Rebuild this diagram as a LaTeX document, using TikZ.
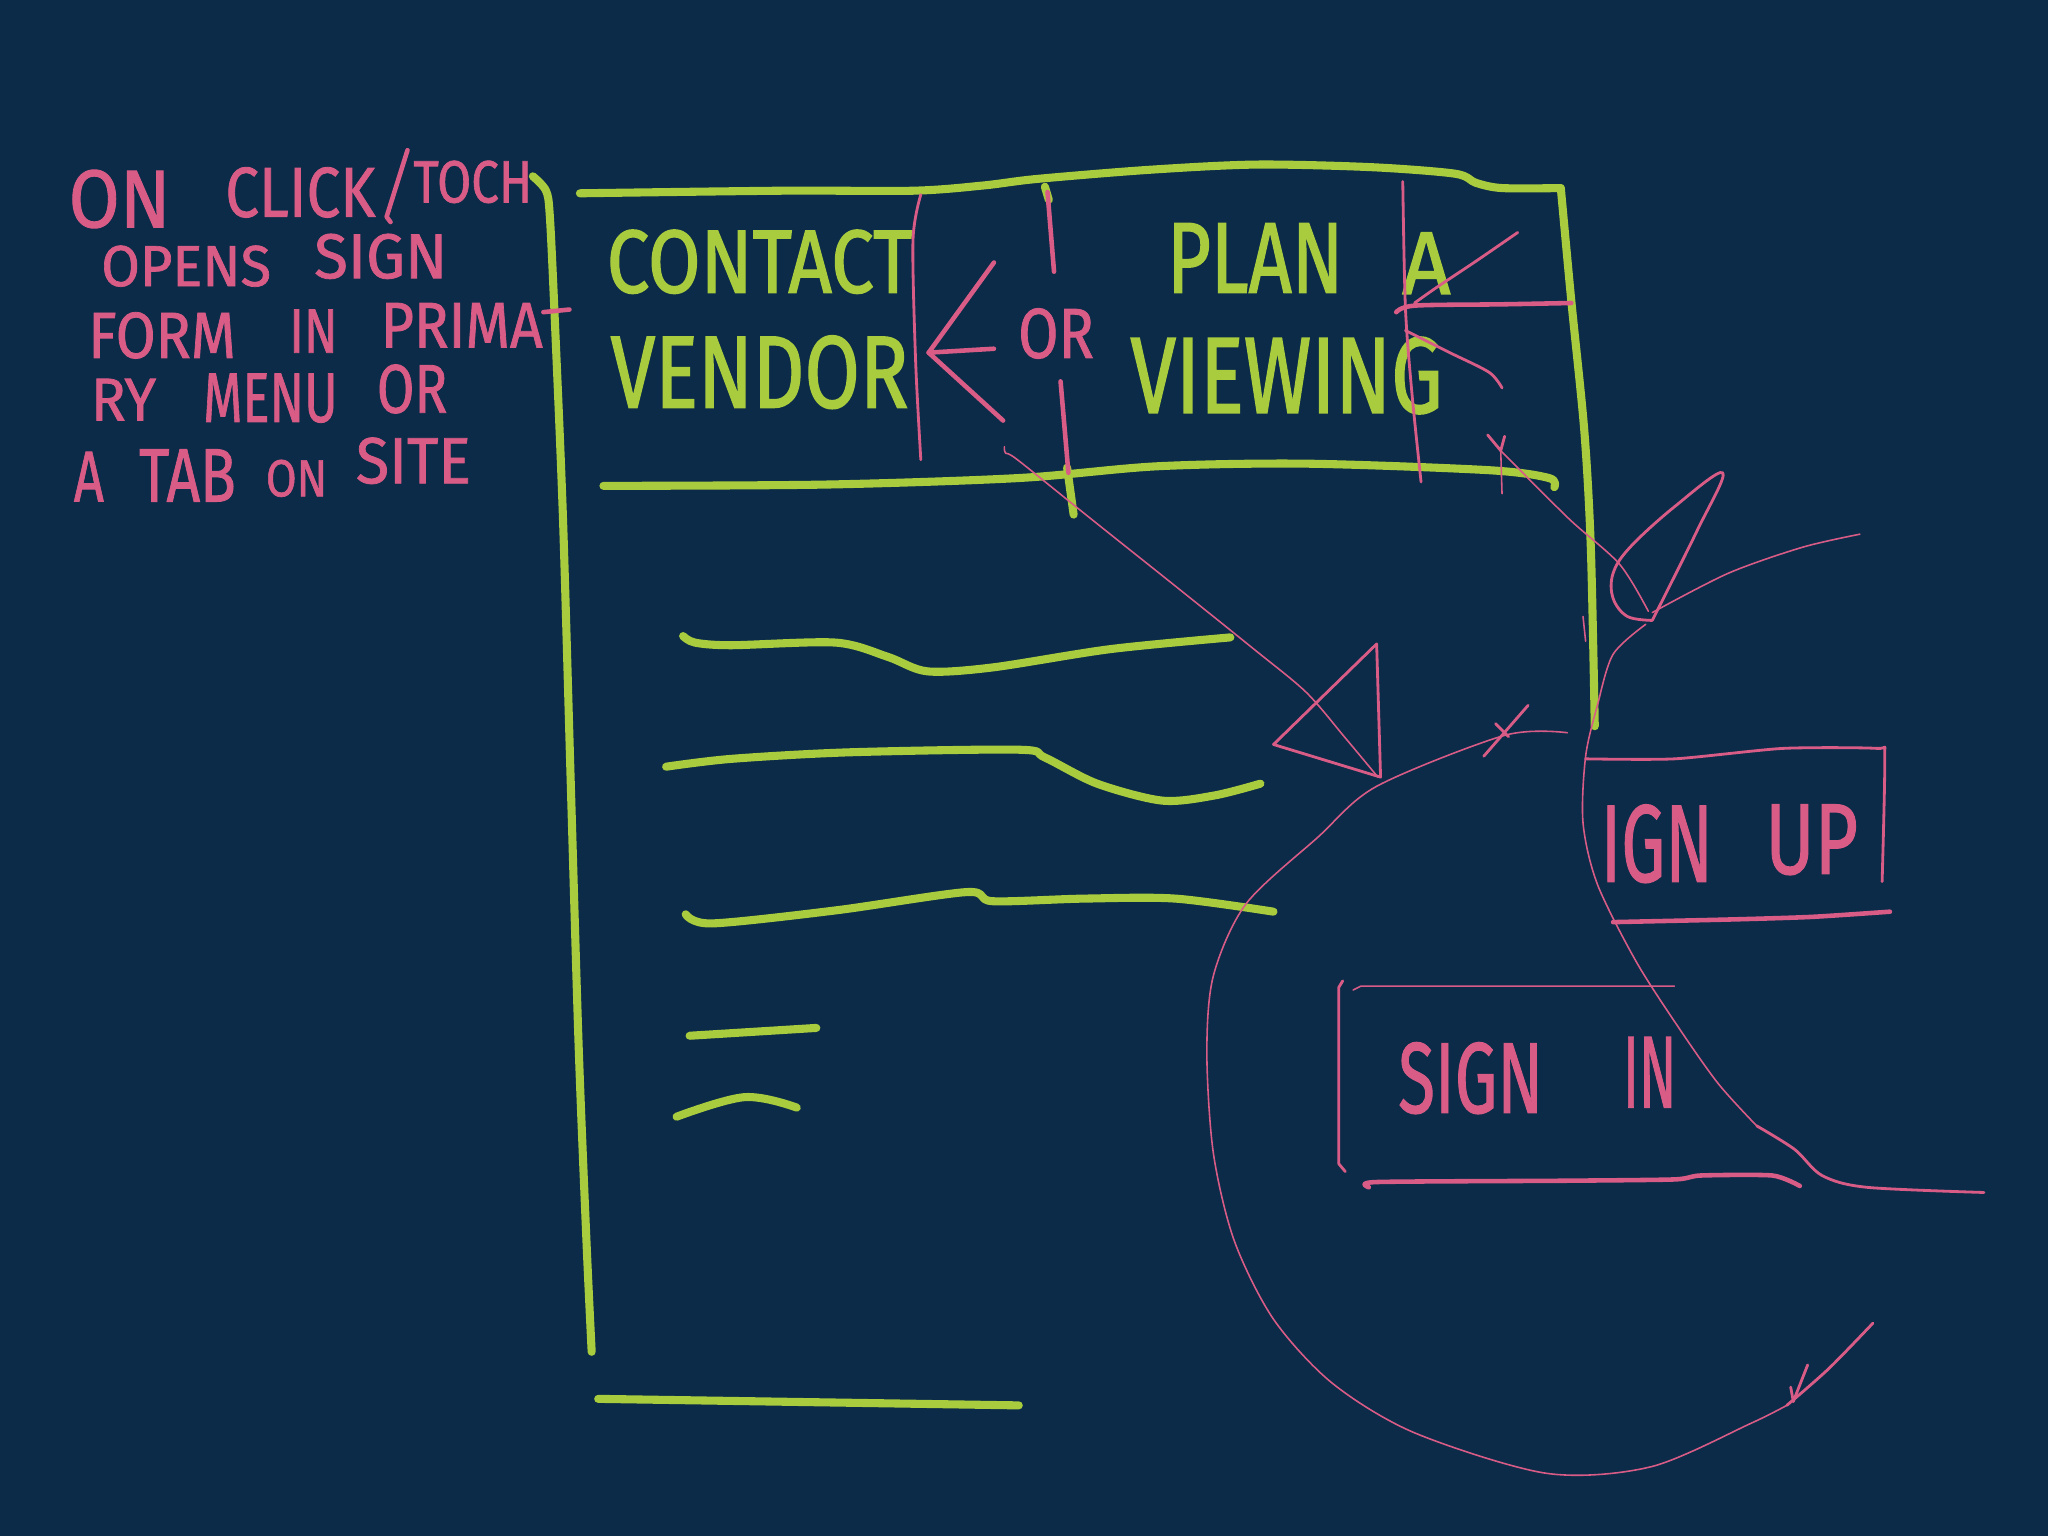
\documentclass[tikz,border=0pt]{standalone}
\usepackage{fontspec}
\setmainfont{Fira Sans}
\newfontfamily\gfont[FakeBold=1.6]{Fira Sans}
\newfontfamily\pfont[FakeBold=1.2]{Fira Sans}
\usepackage{graphicx}
\definecolor{bg}{HTML}{0B2B48}
\definecolor{lime}{HTML}{A9CB3E}
\definecolor{rose}{HTML}{D95C87}
\newlength\ux \setlength\ux{0.0130612cm}
\newcommand\fitw[3]{\resizebox{#1\ux}{#2\ux}{#3}}
\tikzset{
 gline/.style={draw=lime, line width=2.3pt, line cap=round, line join=round},
 pthick/.style={draw=rose, line width=1.3pt, line cap=round, line join=round},
 pmid/.style={draw=rose, line width=0.8pt, line cap=round, line join=round},
 pthin/.style={draw=rose, line width=0.45pt, line cap=round, line join=round},
 gtext/.style={text=lime, inner sep=0pt, anchor=base west, font=\gfont},
 ptext/.style={text=rose, inner sep=0pt, anchor=base west, font=\pfont},
}
\begin{document}
\begin{tikzpicture}[x=0.0130612cm, y=-0.0130612cm]
\fill[bg] (0,0) rectangle (1568,1176);
\useasboundingbox (0,0) rectangle (1568,1176);

% ---------- green page frame ----------
\draw[gline] plot[smooth, tension=0.5] coordinates {(408,135) (418,146) (421,166) (425,250) (431,396) (437,600) (443,800) (449,950) (453,1035)};
\draw[gline] plot[smooth, tension=0.5] coordinates {(444,148) (600,146) (700,146) (753,142) (794,137) (880,130) (962,126) (1050,128) (1114,133) (1130,140) (1150,144) (1195,144)};
\draw[gline] plot[smooth, tension=0.5] coordinates {(1195,144) (1203,230) (1213,330) (1218,420) (1221,556)};
\draw[gline] plot[smooth, tension=0.5] coordinates {(462,372) (632,371) (780,366) (886,357) (1000,355) (1140,360) (1186,366) (1190,373)};
\draw[gline] (800,143) -- (803,153);
\draw[gline] (817,358) -- (822,394);
% content lines
\draw[gline] plot[smooth, tension=0.5] coordinates {(523,487) (532,492) (560,494) (640,492) (680,503) (710,514) (760,511) (850,497) (942,488)};
\draw[gline] plot[smooth, tension=0.5] coordinates {(510,587) (560,581) (650,576) (780,574) (800,580) (840,600) (890,613) (930,609) (965,600)};
\draw[gline] plot[smooth, tension=0.5] coordinates {(525,700) (545,707) (640,697) (740,683) (760,690) (830,688) (900,688) (975,698)};
\draw[gline] (528,793) -- (625,787);
\draw[gline] plot[smooth, tension=0.6] coordinates {(518,855) (570,840) (610,848)};
\draw[gline] (458,1071) -- (780,1076);

% ---------- green labels ----------
\node (contact) [gtext] at (464,224) {\fitw{234}{48}{CONTACT}};
\node (vendor) [gtext] at (467,312) {\fitw{228}{55}{VENDOR}};
\node (plan) [gtext] at (893,224) {\fitw{135}{53}{PLAN}};
\node (plana) [gtext] at (1073,225) {\fitw{37}{47}{A}};
\node (viewing) [gtext] at (865,316) {\fitw{239}{58}{VIEWING}};

% ---------- pink note, left ----------
\node (n1a) [ptext] at (52,174) {\fitw{78}{44}{ON}};
\node (n1b) [ptext] at (172,166) {\fitw{115}{38}{CLICK}};
\node (n1c) [ptext] at (316,155) {\fitw{91}{32}{TOCH}};
\draw[pthick] (312,115) -- (296,166) -- (299,170);
\node (n2a) [ptext] at (77,219) {\fitw{130}{31}{OPENS}};
\node (n2b) [ptext] at (240,213) {\fitw{102}{34}{SIGN}};
\node (n3a) [ptext] at (67,274) {\fitw{113}{35}{FORM}};
\node (n3b) [ptext] at (221,270) {\fitw{37}{33}{IN}};
\node (n3c) [ptext] at (291,266) {\fitw{124}{34}{PRIMA}};
\draw[pthick] (416,239) -- (436,237);
\node (n4a) [ptext] at (69,322) {\fitw{50}{32}{RY}};
\node (n4b) [ptext] at (155,323) {\fitw{103}{37}{MENU}};
\node (n4c) [ptext] at (288,316) {\fitw{54}{37}{OR}};
\node (n5a) [ptext] at (56,384) {\fitw{23}{38}{A}};
\node (n5b) [ptext] at (106,384) {\fitw{74}{40}{TAB}};
\node (n5c) [ptext] at (203,380) {\fitw{47}{28}{ON}};
\node (n5d) [ptext] at (272,370) {\fitw{88}{35}{SITE}};

% ---------- pink marks over the header ----------
\draw[pmid] plot[smooth, tension=0.5] coordinates {(705,149) (699,184) (701,276) (705,352)};
\draw[pthick] (802,147) -- (807,208);
\draw[pthick] (812,292) -- (818,362);
\draw[pthick] (761,201) -- (711,270) -- (768,322);
\draw[pthick] (711,270) -- (761,267);
\node (or) [ptext] at (779,274) {\fitw{58}{38}{OR}};
\draw[pmid] plot[smooth, tension=0.5] coordinates {(1074,139) (1076,235) (1081,301) (1088,369)};
\draw[pthick] plot[smooth, tension=0.5] coordinates {(1069,239) (1083,234) (1150,233) (1203,232)};
\draw[pmid] plot[smooth, tension=0.5] coordinates {(1162,178) (1130,200) (1100,220) (1083,232)};
\draw[pmid] plot[smooth, tension=0.5] coordinates {(1076,253) (1110,270) (1140,285) (1150,297)};

% ---------- long diagonal to the triangle ----------
\draw[pthin] plot[smooth, tension=0.5] coordinates {(769,342) (770,347) (779,352) (835,397) (904,452) (960,497) (1000,530) (1030,565) (1055,595)};
\draw[pmid] (1054,493) -- (1057,595) -- (975,570) -- cycle;

% ---------- diagonal to the teardrop ----------
\draw[pmid] (1139,333) -- (1149,345) -- (1152,334);
\draw[pthin] (1149,345) -- (1150,378);
\draw[pthin] plot[smooth, tension=0.5] coordinates {(1149,345) (1201,397) (1240,432) (1262,468)};
\draw[pmid] plot[smooth, tension=0.6] coordinates {(1265,475) (1299,407) (1319,362) (1282,388) (1248,419) (1235,439) (1235,458) (1246,472) (1265,475)};
\draw[pthin] plot[smooth, tension=0.5] coordinates {(1265,469) (1323,439) (1380,419) (1424,409)};
\draw[pthin] plot[smooth, tension=0.5] coordinates {(1260,478) (1235,501) (1223,540) (1214,579) (1212,630) (1223,677) (1252,735) (1282,782) (1315,829) (1345,862)};
\draw[pmid] plot[smooth, tension=0.5] coordinates {(1345,862) (1374,880) (1395,900) (1429,909) (1519,913)};
\draw[pthin] (1212,472) -- (1214,491);

% ---------- big loop ----------
\draw[pthin] plot[smooth, tension=0.5] coordinates {(1200,561) (1152,563) (1054,602) (1009,641) (954,692) (929,747) (924,806) (929,883) (945,950) (975,1010) (1020,1059) (1083,1097) (1184,1128) (1264,1123) (1340,1090) (1368,1076)};
\draw[pmid] plot[smooth, tension=0.5] coordinates {(1368,1076) (1400,1048) (1434,1013)};
\draw[pmid] (1373,1073) -- (1384,1045);
\draw[pmid] (1373,1073) -- (1371,1062);
\draw[pmid] (1170,540) -- (1136,579);
\draw[pmid] (1145,554) -- (1155,564);

% ---------- sign up box ----------
\draw[pmid] plot[smooth, tension=0.4] coordinates {(1214,581) (1282,581) (1365,573) (1437,573) (1443,579) (1441,675)};
\draw[pthick] plot[smooth, tension=0.4] coordinates {(1235,706) (1324,704) (1387,702) (1447,698)};
\node (ignup1) [ptext] at (1225,675) {\fitw{86}{59}{IGN}};
\node (ignup2) [ptext] at (1351,669) {\fitw{71}{53}{UP}};

% ---------- sign in box ----------
\draw[pmid] (1028,751) -- (1025,756) -- (1025,891) -- (1030,897);
\draw[pthin] (1036,758) -- (1042,755) -- (1282,755);
\draw[pthick] plot[smooth, tension=0.4] coordinates {(1048,909) (1054,905) (1198,904) (1282,903) (1302,900) (1357,900) (1378,908)};
\node (signin1) [ptext] at (1070,852) {\fitw{111}{54}{SIGN}};
\node (signin2) [ptext] at (1242,848) {\fitw{41}{54}{IN}};
\end{tikzpicture}
\end{document}
